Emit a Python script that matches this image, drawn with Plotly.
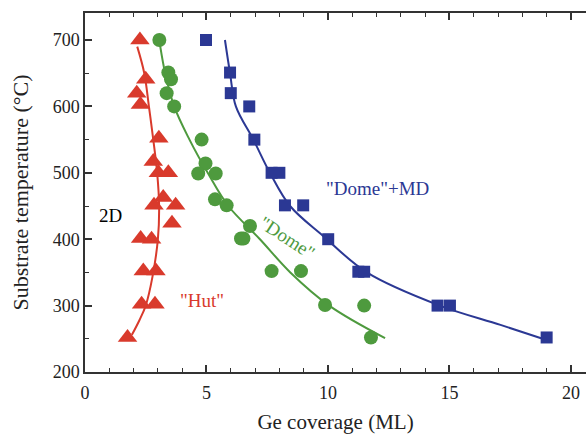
import plotly.graph_objects as go

# Hut (red triangles)
hut_x = [2.26, 2.5, 2.13, 2.28, 3.04, 2.81, 3.02, 3.43, 3.22, 2.84, 3.73, 3.58, 2.29, 2.74, 2.40, 2.92, 2.33, 2.88, 1.75]
hut_y = [700, 641, 620, 603, 552, 517, 500, 500, 463, 451, 451, 424, 401, 400, 352, 352, 302, 302, 252]
hut_fit_x = [1.93, 2.24, 2.5, 2.78, 3.0, 3.05, 2.97, 2.81, 2.63, 2.44, 2.15]
hut_fit_y = [256, 278, 300, 344, 400, 450, 500, 550, 600, 650, 690]

# Dome (green circles)
dome_x = [3.06, 3.43, 3.54, 3.36, 3.67, 4.80, 4.96, 4.66, 5.38, 5.35, 5.83, 6.79, 6.42, 6.52, 7.68, 8.89, 9.88, 11.49, 11.77]
dome_y = [700, 651, 641, 620, 600, 550, 514, 499, 499, 460, 451, 420, 401, 401, 352, 352, 301, 300, 252]
dome_fit_x = [3.09, 3.3, 3.67, 4.3, 5.05, 5.9, 7.2, 8.45, 10.05, 12.35]
dome_fit_y = [692, 650, 600, 550, 500, 450, 400, 350, 300, 251]

# Dome + MD (blue squares)
md_x = [4.98, 5.97, 6.0, 6.76, 6.97, 7.68, 8.0, 8.23, 8.98, 10.01, 11.25, 11.49, 14.51, 15.02, 19.0]
md_y = [700, 651, 620, 600, 550, 500, 500, 451, 451, 400, 351, 351, 300, 300, 252]
md_fit_x = [5.76, 5.97, 6.21, 6.93, 7.61, 8.44, 9.8, 11.6, 14.6, 17.1, 18.93]
md_fit_y = [700, 650, 600, 550, 500, 450, 405, 350, 300, 271, 249]

RED = "#d93a2c"
GREEN = "#4e9a3e"
BLUE = "#2b3894"
FONT = "Liberation Serif"

fig = go.Figure()
for fx, fy, c in [(hut_fit_x, hut_fit_y, RED), (dome_fit_x, dome_fit_y, GREEN), (md_fit_x, md_fit_y, BLUE)]:
    fig.add_trace(go.Scatter(x=fx, y=fy, mode="lines", line=dict(color=c, width=2, shape="spline"),
                             showlegend=False, hoverinfo="skip"))
fig.add_trace(go.Scatter(x=hut_x, y=hut_y, mode="markers",
                         marker=dict(symbol="triangle-up", size=17, color=RED), showlegend=False))
fig.add_trace(go.Scatter(x=dome_x, y=dome_y, mode="markers",
                         marker=dict(symbol="circle", size=14, color=GREEN), showlegend=False))
fig.add_trace(go.Scatter(x=md_x, y=md_y, mode="markers",
                         marker=dict(symbol="square", size=12, color=BLUE), showlegend=False))

fig.add_annotation(x=1.03, y=436, text="2D", showarrow=False, font=dict(family=FONT, size=19, color="black"))
fig.add_annotation(x=4.8, y=308, text='"Hut"', showarrow=False, font=dict(family=FONT, size=19, color=RED))
fig.add_annotation(x=8.31, y=402, text='"Dome"', textangle=33, showarrow=False, font=dict(family=FONT, size=19, color=GREEN))
fig.add_annotation(x=12.04, y=477, text='"Dome"+MD', showarrow=False, font=dict(family=FONT, size=19, color=BLUE))

axis_common = dict(showgrid=False, zeroline=False, showline=True, linecolor="#333", linewidth=1.5,
                   ticks="inside", ticklen=7, tickwidth=1.5, tickcolor="#333",
                   tickfont=dict(family=FONT, size=18, color="#222"))
fig.update_xaxes(range=[0, 20.62], tick0=0, dtick=5, mirror="ticks", ticklabelstandoff=4,
                 minor=dict(ticks="inside", ticklen=4, dtick=1, tickcolor="#333", tickwidth=1.2),
                 title=dict(text="Ge coverage (ML)", font=dict(family=FONT, size=21, color="#222"), standoff=12),
                 **axis_common)
fig.update_yaxes(range=[200, 740.7], tick0=200, dtick=100,
                 minor=dict(ticks="inside", ticklen=4, dtick=50, tickcolor="#333", tickwidth=1.2),
                 title=dict(text="Substrate temperature (°C)", font=dict(family=FONT, size=22, color="#222"), standoff=18),
                 **axis_common)
fig.update_layout(width=586, height=435, margin=dict(l=85, r=0, t=13, b=63),
                  plot_bgcolor="white", paper_bgcolor="white")
fig.write_html("out.html")
